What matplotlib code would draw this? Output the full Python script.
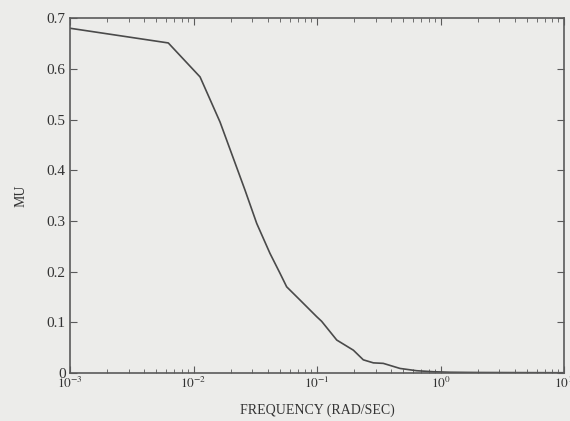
import numpy as np
import matplotlib
matplotlib.use('Agg')
import matplotlib.pyplot as plt

# values
freq = [0.001, 0.00625, 0.0113, 0.0164, 0.0261, 0.0325, 0.0416, 0.0501,
        0.0568, 0.0728, 0.0995, 0.109, 0.1445, 0.197, 0.237, 0.286, 0.344,
        0.470, 0.641, 0.875, 1.2, 2.0, 10.0]
mu = [0.680, 0.651, 0.584, 0.495, 0.361, 0.295, 0.236, 0.197,
      0.170, 0.144, 0.111, 0.102, 0.065, 0.045, 0.026, 0.020, 0.019,
      0.009, 0.0045, 0.0025, 0.0015, 0.001, 0.0005]
yticks = [0, 0.1, 0.2, 0.3, 0.4, 0.5, 0.6, 0.7]
ytick_labels = ['0', '0.1', '0.2', '0.3', '0.4', '0.5', '0.6', '0.7']
xticks = [1e-3, 1e-2, 1e-1, 1e0, 1e1]
xtick_labels = [r'$10^{-3}$', r'$10^{-2}$', r'$10^{-1}$', r'$10^{0}$', r'$10^{1}$']

plt.rcParams['font.family'] = ['Liberation Serif', 'DejaVu Serif']
plt.rcParams['mathtext.fontset'] = 'stix'

bg = '#ececea'
ink = '#5a5a5a'

fig = plt.figure(figsize=(5.7, 4.21), dpi=100, facecolor=bg)
ax = fig.add_axes([0.1228, 0.114, 0.8667, 0.843])
ax.set_facecolor(bg)

ax.plot(freq, mu, color='#4a4a4a', lw=1.2)

ax.set_xscale('log')
ax.set_xlim(1e-3, 1e1)
ax.set_ylim(0, 0.7)
ax.set_xticks(xticks)
ax.set_xticklabels(xtick_labels)
ax.set_yticks(yticks)
ax.set_yticklabels(ytick_labels)

for s in ax.spines.values():
    s.set_color(ink)
    s.set_linewidth(1.2)

ax.tick_params(which='both', direction='in', top=True, right=True,
               colors=ink, labelcolor='#333333')
ax.tick_params(which='major', length=5, labelsize=11, pad=3)
ax.tick_params(which='minor', length=3)
ax.tick_params(axis='x', which='major', labelsize=9.5, pad=2)

ax.set_xlabel('FREQUENCY (RAD/SEC)', fontsize=10, color='#333333', labelpad=9)
ax.set_ylabel('MU', fontsize=10, color='#333333', labelpad=14)

fig.savefig('out.png', dpi=100, facecolor=bg)
